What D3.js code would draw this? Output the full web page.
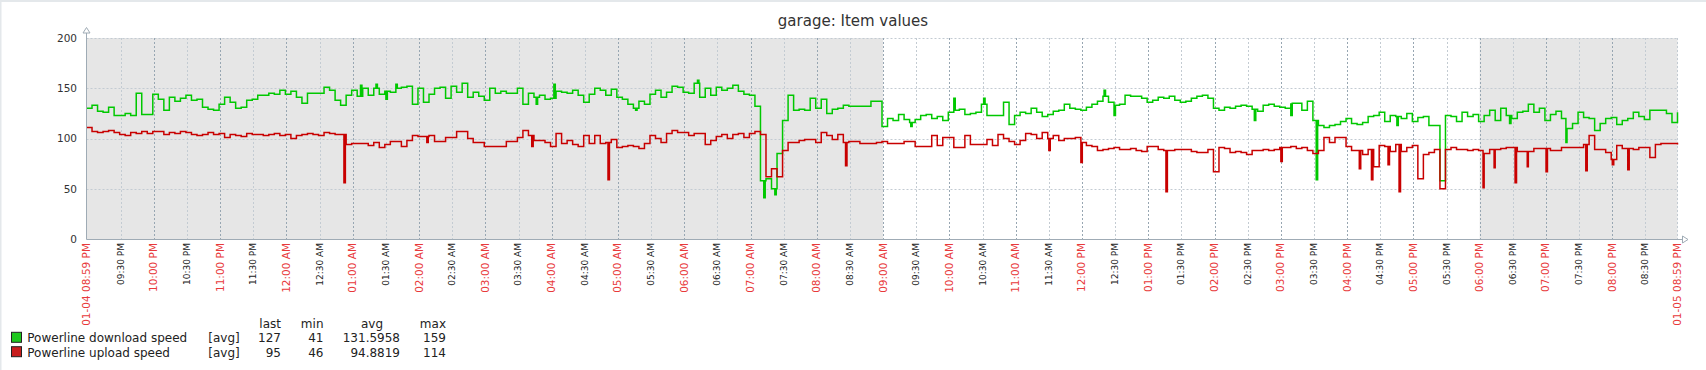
<!DOCTYPE html>
<html>
<head>
<meta charset="utf-8">
<script src="https://cdn.jsdelivr.net/npm/d3@7"></script>
<style>
    body { margin: 0; background: #fff; }
    svg { display: block; font-family: "DejaVu Sans", sans-serif; }
</style>
</head>
<body>
<svg id="graph" width="1706" height="370"></svg>
<script>
// time range of the graph, one value every 5 minutes
var startTime = new Date(2018, 0, 4, 20, 59),
    endTime = new Date(2018, 0, 5, 20, 59),
    workStart = new Date(2018, 0, 5, 9, 0),
    workEnd = new Date(2018, 0, 5, 18, 0),
    stepMinutes = 5;

// Powerline download speed, 5-minute samples
var downloadSpeed = [
    130,133,127,126,131,123,123,125,123,145, 124,124,144,139,128,141,137,140,143,138,
    139,131,129,128,134,141,136,130,131,138, 139,143,143,145,144,148,144,147,141,135,
    145,145,145,151,148,138,133,143,148,142, 150,143,150,144,147,146,150,151,
    152,134,150,136,144,150,151,140,152,146, 155,141,146,142,138,150,145,147,145,145,
    150,134,145,141,143,139,140,147,146,145, 148,143,136,144,150,148,143,149,141,139,
    134,130,137,134,144,148,141,146,152,151, 146,145,155,141,150,143,151,148,
    150,153,147,144,143,132,58,60,50,85, 118,143,128,129,128,140,130,139,125,129,
    130,133,132,132,132,132,137,137,112,120, 118,124,119,116,119,123,124,120,122,118,
    126,128,129,124,125,126,134,123,123,123, 136,114,123,126,125,130,126,122,
    124,127,128,134,130,129,128,131,134,137, 142,136,133,134,143,142,142,140,136,138,
    141,140,142,138,136,137,140,142,143,140, 130,128,131,130,132,133,132,129,127,133,
    134,132,131,130,135,135,128,137,118,113, 111,113,114,117,120,115,114,116,
    122,123,126,117,123,122,120,125,117,121, 122,113,113,58,123,122,117,126,122,124,
    117,123,128,118,130,123,120,126,127,134, 126,130,118,124,127,120,110,115,126,121,
    120,108,115,120,121,114,118,120,126,122, 119,128,128,128,125,116,126
];

// Powerline upload speed, 5-minute samples
var uploadSpeed = [
    111,107,106,107,108,106,104,103,106,105, 107,105,107,107,104,106,105,107,106,104,
    103,104,106,104,105,101,104,103,102,105, 104,104,103,104,105,103,104,100,103,104,
    105,104,103,106,105,104,104,94,95,95, 95,93,96,91,94,97,97,92,
    98,103,102,102,103,97,97,101,101,107, 107,100,96,96,92,92,92,92,97,97,
    101,108,103,98,98,96,92,105,95,98, 94,92,103,95,103,95,96,99,91,92,
    93,92,90,95,103,100,96,105,108,106, 106,103,105,105,94,98,102,104,
    100,104,105,101,105,107,104,62,70,62, 88,96,96,98,99,99,96,106,103,99,
    104,96,97,97,95,95,95,96,97,95, 95,95,97,97,92,92,92,103,93,101,
    101,91,91,103,94,94,94,99,93,104, 100,97,94,98,105,104,100,106,
    100,103,98,100,100,101,96,93,92,88, 89,90,91,89,89,90,88,87,92,92,
    89,88,88,89,89,89,87,86,86,89, 67,91,90,86,87,86,84,88,88,89,
    88,89,91,91,92,90,91,88,85,88, 101,96,101,101,92,88,88,84,
    89,72,93,92,87,94,87,91,93,60, 84,86,89,50,89,91,89,89,88,89,
    88,85,89,89,90,91,91,87,87,87, 90,90,90,88,88,91,91,91,91,94,
    103,89,89,86,79,93,90,90,89,91, 91,81,94,95,95,95,94
];

// short one-minute excursions: [minutes after start, value]
var downloadBlips = [[248, 153], [262, 154], [271, 139], [280, 154], [407, 134], [423, 154],
                     [497, 128], [553, 158], [613, 41], [623, 44], [746, 112], [785, 140],
                     [812, 140], [921, 148], [930, 123], [1057, 118], [1090, 123], [1113, 59],
                     [1186, 113], [1288, 115], [1339, 96]];
var uploadBlips = [[233, 56], [308, 96], [403, 92], [472, 59], [687, 73], [871, 88], [900, 76],
                   [977, 47], [1081, 77], [1152, 70], [1163, 59], [1178, 74], [1188, 47],
                   [1264, 51], [1274, 71], [1293, 56], [1304, 72], [1321, 67], [1357, 68],
                   [1381, 74], [1395, 69]];

var yTicks = [0, 50, 100, 150, 200];
var seriesNames = ["Powerline download speed", "Powerline upload speed"];
var seriesColors = ["#00c800", "#c80000"];
var legendHeaders = ["last", "min", "avg", "max"];
var downloadStats = ["127", "41", "131.5958", "159"];
var uploadStats = ["95", "46", "94.8819", "114"];

window.onload = function()
{
    const MARGIN = {top: 38, left: 86.5, right: 28.5, bottom: 131};
    const WIDTH = 1706 - MARGIN.left - MARGIN.right,
          HEIGHT = 370 - MARGIN.top - MARGIN.bottom;

    var svg = d3.select("#graph");

    // light frame on the top and left edges
    svg.append("rect").attr("x", 0).attr("y", 0).attr("width", 1706).attr("height", 2).attr("fill", "#e4e8eb");
    svg.append("rect").attr("x", 0).attr("y", 0).attr("width", 1.5).attr("height", 370).attr("fill", "#e4e8eb");

    var xScale = d3.scaleTime().domain([startTime, endTime]).range([MARGIN.left, MARGIN.left + WIDTH]),
        yScale = d3.scaleLinear().domain([0, 200]).range([MARGIN.top + HEIGHT, MARGIN.top]);

    // title
    svg.append("text")
        .attr("x", 853)
        .attr("y", 26)
        .attr("text-anchor", "middle")
        .attr("font-size", "15px")
        .attr("fill", "#333")
        .text("garage: Item values");

    // plot background, non working time is shaded
    svg.append("rect")
        .attr("x", MARGIN.left).attr("y", MARGIN.top)
        .attr("width", WIDTH).attr("height", HEIGHT)
        .attr("fill", "#e6e6e6");
    svg.append("rect")
        .attr("x", xScale(workStart)).attr("y", MARGIN.top)
        .attr("width", xScale(workEnd) - xScale(workStart)).attr("height", HEIGHT)
        .attr("fill", "#ffffff");

    // grid
    var grid = svg.append("g").attr("fill", "none").attr("stroke-dasharray", "2,2");
    yTicks.filter(d => d > 0).forEach(d => {
        grid.append("line")
            .attr("x1", MARGIN.left).attr("x2", MARGIN.left + WIDTH)
            .attr("y1", Math.round(yScale(d)) + 0.5).attr("y2", Math.round(yScale(d)) + 0.5)
            .attr("stroke", "#c3cbd2");
    });
    // half hour ticks, skipping the one right next to the start label
    var xTicks = d3.timeMinute.every(30)
        .range(d3.timeMinute.offset(startTime, 15), endTime);
    xTicks.forEach(d => {
        var px = Math.round(xScale(d)) + 0.5;
        grid.append("line")
            .attr("x1", px).attr("x2", px)
            .attr("y1", MARGIN.top).attr("y2", MARGIN.top + HEIGHT)
            .attr("stroke", d.getMinutes() == 0 ? "#97a6b2" : "#c3cbd2");
    });
    grid.append("line")
        .attr("x1", MARGIN.left + WIDTH).attr("x2", MARGIN.left + WIDTH)
        .attr("y1", MARGIN.top).attr("y2", MARGIN.top + HEIGHT)
        .attr("stroke", "#c3cbd2");

    // lines
    var lineGen = d3.line()
        .x(d => xScale(d.t))
        .y(d => yScale(d.v))
        .curve(d3.curveStepAfter);

    [buildSeries(downloadSpeed, downloadBlips), buildSeries(uploadSpeed, uploadBlips)].forEach((s, i) => {
        svg.append("path")
            .attr("d", lineGen(s))
            .attr("fill", "none")
            .attr("stroke", seriesColors[i])
            .attr("stroke-width", 1.5);
    });

    // axes
    var axisColor = "#9fabb5";
    svg.append("line")
        .attr("x1", MARGIN.left).attr("x2", MARGIN.left)
        .attr("y1", 33).attr("y2", MARGIN.top + HEIGHT + 0.5)
        .attr("stroke", axisColor);
    svg.append("line")
        .attr("x1", MARGIN.left).attr("x2", MARGIN.left + WIDTH + 5)
        .attr("y1", MARGIN.top + HEIGHT + 0.5).attr("y2", MARGIN.top + HEIGHT + 0.5)
        .attr("stroke", axisColor);
    svg.append("path")
        .attr("d", "M" + (MARGIN.left - 3.5) + ",33 L" + MARGIN.left + ",27.5 L" + (MARGIN.left + 3.5) + ",33 Z")
        .attr("fill", "#fff").attr("stroke", axisColor);
    var ax = MARGIN.left + WIDTH + 5, ay = MARGIN.top + HEIGHT + 0.5;
    svg.append("path")
        .attr("d", "M" + ax + "," + (ay - 3.5) + " L" + (ax + 5.5) + "," + ay + " L" + ax + "," + (ay + 3.5) + " Z")
        .attr("fill", "#fff").attr("stroke", axisColor);

    // y labels
    svg.append("g").selectAll("text")
        .data(yTicks).enter()
        .append("text")
        .attr("x", 77)
        .attr("y", d => yScale(d))
        .attr("dy", "0.36em")
        .attr("text-anchor", "end")
        .attr("font-size", "10.5px")
        .attr("fill", "#333")
        .text(d => d);

    // x labels
    var fmtShort = d3.timeFormat("%I:%M %p"),
        fmtLong = d3.timeFormat("%m-%d %I:%M %p");
    var labels = [{t: startTime, text: fmtLong(startTime), major: true}]
        .concat(xTicks.map(d => ({t: d, text: fmtShort(d), major: d.getMinutes() == 0})))
        .concat([{t: endTime, text: fmtLong(endTime), major: true}]);
    svg.append("g").selectAll("text")
        .data(labels).enter()
        .append("text")
        .attr("transform", d => "translate(" + xScale(d.t) + "," + (MARGIN.top + HEIGHT + 4) + ") rotate(-90)")
        .attr("text-anchor", "end")
        .attr("dy", "0.33em")
        .attr("font-size", d => d.major ? "10.5px" : "9px")
        .attr("fill", d => d.major ? "#e8393b" : "#222")
        .text(d => d.text);

    // legend
    var legend = svg.append("g").attr("font-size", "12px").attr("fill", "#222");
    var colRight = [281, 323.5, 383, 446];
    legendHeaders.forEach((h, i) => {
        legend.append("text").attr("x", colRight[i]).attr("y", 327.5)
            .attr("text-anchor", "end").text(h);
    });
    var valueRight = [281, 323.5, 400, 446];
    [downloadStats, uploadStats].forEach((stats, r) => {
        var by = 342.3 + r * 14.4;
        legend.append("rect")
            .attr("x", 11.5).attr("y", by - 10)
            .attr("width", 10).attr("height", 10)
            .attr("fill", r == 0 ? "#1ec81e" : "#c81e1e")
            .attr("stroke", "#222").attr("stroke-width", 1);
        legend.append("text").attr("x", 27.3).attr("y", by).text(seriesNames[r]);
        legend.append("text").attr("x", 208.3).attr("y", by).text("[avg]");
        stats.forEach((s, i) => {
            legend.append("text").attr("x", valueRight[i]).attr("y", by)
                .attr("text-anchor", "end").text(s);
        });
    });
}

// turns the 5-minute values and the short excursions into one point list
function buildSeries(values, blips)
{
    var points = values.map((v, i) => ({t: d3.timeMinute.offset(startTime, i * stepMinutes), v: v}));
    blips.forEach(b => {
        var back = b[0] + 1.3;
        var base = values[Math.min(values.length - 1, Math.floor(back / stepMinutes))];
        points.push({t: d3.timeMinute.offset(startTime, b[0]), v: b[1]});
        points.push({t: d3.timeSecond.offset(startTime, Math.round(back * 60)), v: base});
    });
    points.sort((a, b) => a.t - b.t);
    return points;
}
</script>
</body>
</html>
